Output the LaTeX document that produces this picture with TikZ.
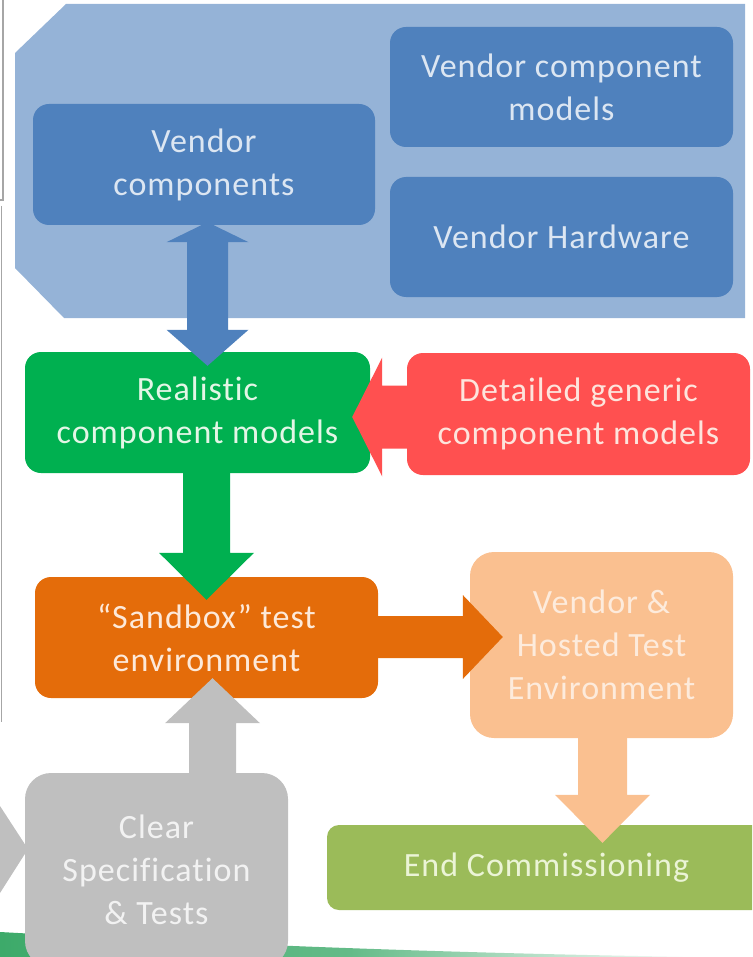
\documentclass[tikz,border=0pt]{standalone}
\usepackage{fontspec}
\setmainfont{Carlito}[LetterSpace=3, Ligatures=NoCommon]
\usetikzlibrary{calc}

\definecolor{panel}{HTML}{95B3D7}
\definecolor{vblue}{HTML}{4F81BD}
\definecolor{vbluetxt}{HTML}{DCE6F2}
\definecolor{rgreen}{HTML}{00B050}
\definecolor{rgreentxt}{HTML}{E3F6E6}
\definecolor{dred}{HTML}{FF5050}
\definecolor{dredtxt}{HTML}{FDE4DC}
\definecolor{sorange}{HTML}{E46C0A}
\definecolor{sorangetxt}{HTML}{FDE9D9}
\definecolor{peach}{HTML}{FAC090}
\definecolor{peachtxt}{HTML}{FDEBDC}
\definecolor{olive}{HTML}{9BBB59}
\definecolor{olivetxt}{HTML}{EBF4D6}
\definecolor{spec}{HTML}{BFBFBF}
\definecolor{spectxt}{HTML}{F2F2F2}
\definecolor{swoosh}{HTML}{3DAA6A}
\definecolor{frameline}{HTML}{A6A6A6}

\begin{document}
\begin{tikzpicture}[x=1pt,y=-1pt,
  box/.style={rounded corners=16pt, inner sep=0pt, align=center,
    font=\fontsize{34}{43}\selectfont},
]
\useasboundingbox (0,0) rectangle (752,957);
\clip (0,0) rectangle (752,957);

% vendor panel with chamfered left corners
\fill[panel] (66,4) -- (745,4) -- (745,318) -- (64,318) -- (15,268) -- (15,53) -- cycle;

% fragments of the slide frame on the left
\draw[frameline, line width=1.2pt] (3,0) -- (3,200) -- (0,200);
\draw[frameline, line width=1.2pt] (1.2,206) -- (1.2,722);

% green swoosh along the bottom
\shade[left color=swoosh, right color=white, middle color=swoosh!80]
  (0,932) .. controls (180,942) and (420,953) .. (700,957) -- (0,957) -- cycle;

% partly visible grey arrow head on the left
\fill[spec] (0,806) -- (28,849) -- (0,893) -- cycle;

% boxes
\node[box, fill=vblue, text=vbluetxt, minimum width=342pt, minimum height=121pt]
  (vc) at (204,164.5) {Vendor\\components};
\node[box, fill=vblue, text=vbluetxt, minimum width=343pt, minimum height=120pt]
  (vcm) at (561.5,87) {Vendor component\\models};
\node[box, fill=vblue, text=vbluetxt, minimum width=343pt, minimum height=120pt]
  (vh) at (561.5,237) {Vendor Hardware};
\node[box, fill=rgreen, text=rgreentxt, minimum width=345pt, minimum height=121pt]
  (rcm) at (197.5,412.5) {Realistic\\component models};
\node[box, fill=dred, text=dredtxt, minimum width=343pt, minimum height=122pt]
  (dgcm) at (578.5,414) {Detailed generic\\component models};
\node[box, fill=sorange, text=sorangetxt, minimum width=343pt, minimum height=121pt]
  (sb) at (206.5,637.5) {“Sandbox” test\\environment};
\node[box, rounded corners=24pt, fill=peach, text=peachtxt, minimum width=263pt, minimum height=186pt]
  (vht) at (601.5,645) {Vendor \&\\Hosted Test\\Environment};
\node[box, rounded corners=12pt, fill=olive, text=olivetxt, minimum width=439pt, minimum height=85pt]
  (ec) at (546.5,867.5) {End Commissioning};
\node[box, rounded corners=26pt, fill=spec, text=spectxt, minimum width=263pt, minimum height=194pt]
  (cst) at (156.5,870) {Clear\\Specification\\\& Tests};

% arrow end points
\coordinate (bA) at ($(vc.south)+(3.5,-3)$);
\coordinate (bB) at ($(rcm.north)+(10,14)$);
\coordinate (gA) at ($(rcm.south)+(9,0)$);
\coordinate (gB) at ($(sb.north)+(0,23)$);
\coordinate (rA) at ($(dgcm.west)+(0,3)$);
\coordinate (rB) at ($(rcm.east)+(-18,4.5)$);
\coordinate (oA) at ($(sb.east)+(0,0)$);
\coordinate (oB) at ($(vht.west)+(33,-8)$);
\coordinate (pA) at ($(vht.south)+(1,0)$);
\coordinate (pB) at ($(ec.north)+(56,18)$);
\coordinate (kA) at ($(cst.north)+(56,0)$);
\coordinate (kB) at ($(sb.south)+(6,-20)$);

% two-headed block arrow between vendor components and realistic models
\fill[vblue] let \p1=(bA), \p2=(bB) in
  (\x1,\y1) -- (\x1+41pt,\y1-20pt) -- (\x1+20.5pt,\y1-20pt) -- (\x1+20.5pt,\y2+36pt)
  -- (\x1+41pt,\y2+36pt) -- (\x1,\y2) -- (\x1-41pt,\y2+36pt) -- (\x1-20.5pt,\y2+36pt)
  -- (\x1-20.5pt,\y1-20pt) -- (\x1-41pt,\y1-20pt) -- cycle;

% realistic models down to sandbox
\fill[rgreen] let \p1=(gA), \p2=(gB) in
  (\x1-23.5pt,\y1) -- (\x1+23.5pt,\y1) -- (\x1+23.5pt,\y2+47pt) -- (\x1+47.5pt,\y2+47pt)
  -- (\x1,\y2) -- (\x1-47.5pt,\y2+47pt) -- (\x1-23.5pt,\y2+47pt) -- cycle;

% generic models left into realistic models
\fill[dred] let \p1=(rA), \p2=(rB) in
  (\x1,\y1+31.5pt) -- (\x2+30pt,\y1+31.5pt) -- (\x2+30pt,\y1+59.5pt) -- (\x2,\y1)
  -- (\x2+30pt,\y1-59.5pt) -- (\x2+30pt,\y1-31.5pt) -- (\x1,\y1-31.5pt) -- cycle;

% sandbox right to hosted test environment
\fill[sorange] let \p1=(oA), \p2=(oB) in
  (\x1,\y2+21pt) -- (\x2-40pt,\y2+21pt) -- (\x2-40pt,\y2+42pt) -- (\x2,\y2)
  -- (\x2-40pt,\y2-42pt) -- (\x2-40pt,\y2-21pt) -- (\x1,\y2-21pt) -- cycle;

% hosted test environment down to end commissioning
\fill[peach] let \p1=(pA), \p2=(pB) in
  (\x1-24.5pt,\y1) -- (\x1+24.5pt,\y1) -- (\x1+24.5pt,\y2+48pt) -- (\x1+47.5pt,\y2+48pt)
  -- (\x1,\y2) -- (\x1-47.5pt,\y2+48pt) -- (\x1-24.5pt,\y2+48pt) -- cycle;

% specification up to sandbox
\fill[spec] let \p1=(kA), \p2=(kB) in
  (\x1-23.5pt,\y1) -- (\x1+23.5pt,\y1) -- (\x1+23.5pt,\y2-45pt) -- (\x1+47.5pt,\y2-45pt)
  -- (\x1,\y2) -- (\x1-47.5pt,\y2-45pt) -- (\x1-23.5pt,\y2-45pt) -- cycle;
\end{tikzpicture}
\end{document}
